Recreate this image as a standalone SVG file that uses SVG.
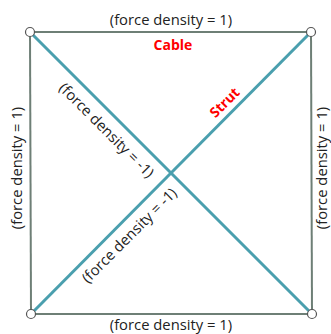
<svg xmlns="http://www.w3.org/2000/svg" width="331" height="334" viewBox="0 0 331 334">
<style>
.lbl{font-family:"Open Sans","Noto Sans",sans-serif;font-size:14.8px;fill:#222;text-anchor:middle}
.red{font-family:"Open Sans","Noto Sans",sans-serif;font-size:14px;font-weight:bold;fill:#ff0000;text-anchor:middle}
.cable{stroke:#6e7f76;stroke-width:2;fill:none}
.strut{stroke:#4a9fae;stroke-width:3;fill:none}
.node{fill:#fff;stroke:#555;stroke-width:1.2}
</style>
<rect width="331" height="334" fill="#fff"/>
<g id="connectors">
<line class="cable" x1="30" y1="32" x2="311" y2="32"/>
<line class="cable" x1="31" y1="314" x2="312" y2="314"/>
<line class="cable" x1="30" y1="32" x2="31" y2="314"/>
<line class="cable" x1="311" y1="32" x2="312" y2="314"/>
<line class="strut" x1="30" y1="32" x2="312" y2="314"/>
<line class="strut" x1="31" y1="314" x2="311" y2="32"/>
</g>
<g id="labels">
<text class="lbl" x="171" y="24.5">(force density = 1)</text>
<text class="lbl" x="171" y="330">(force density = 1)</text>
<text class="lbl" transform="translate(22,168) rotate(-90)">(force density = 1)</text>
<text class="lbl" transform="translate(327,168) rotate(-90)">(force density = 1)</text>
<text class="lbl" transform="translate(103,134) rotate(45)">(force density = -1)</text>
<text class="lbl" transform="translate(133,239) rotate(-45)">(force density = -1)</text>
<text class="red" x="173" y="49.5">Cable</text>
<text class="red" transform="translate(228,106) rotate(-45)">Strut</text>
</g>
<g id="n1"><circle class="node" cx="30" cy="32" r="4.5"/></g>
<g id="n2"><circle class="node" cx="311" cy="32" r="4.5"/></g>
<g id="n3"><circle class="node" cx="31" cy="314" r="4.5"/></g>
<g id="n4"><circle class="node" cx="312" cy="314" r="4.5"/></g>
</svg>
